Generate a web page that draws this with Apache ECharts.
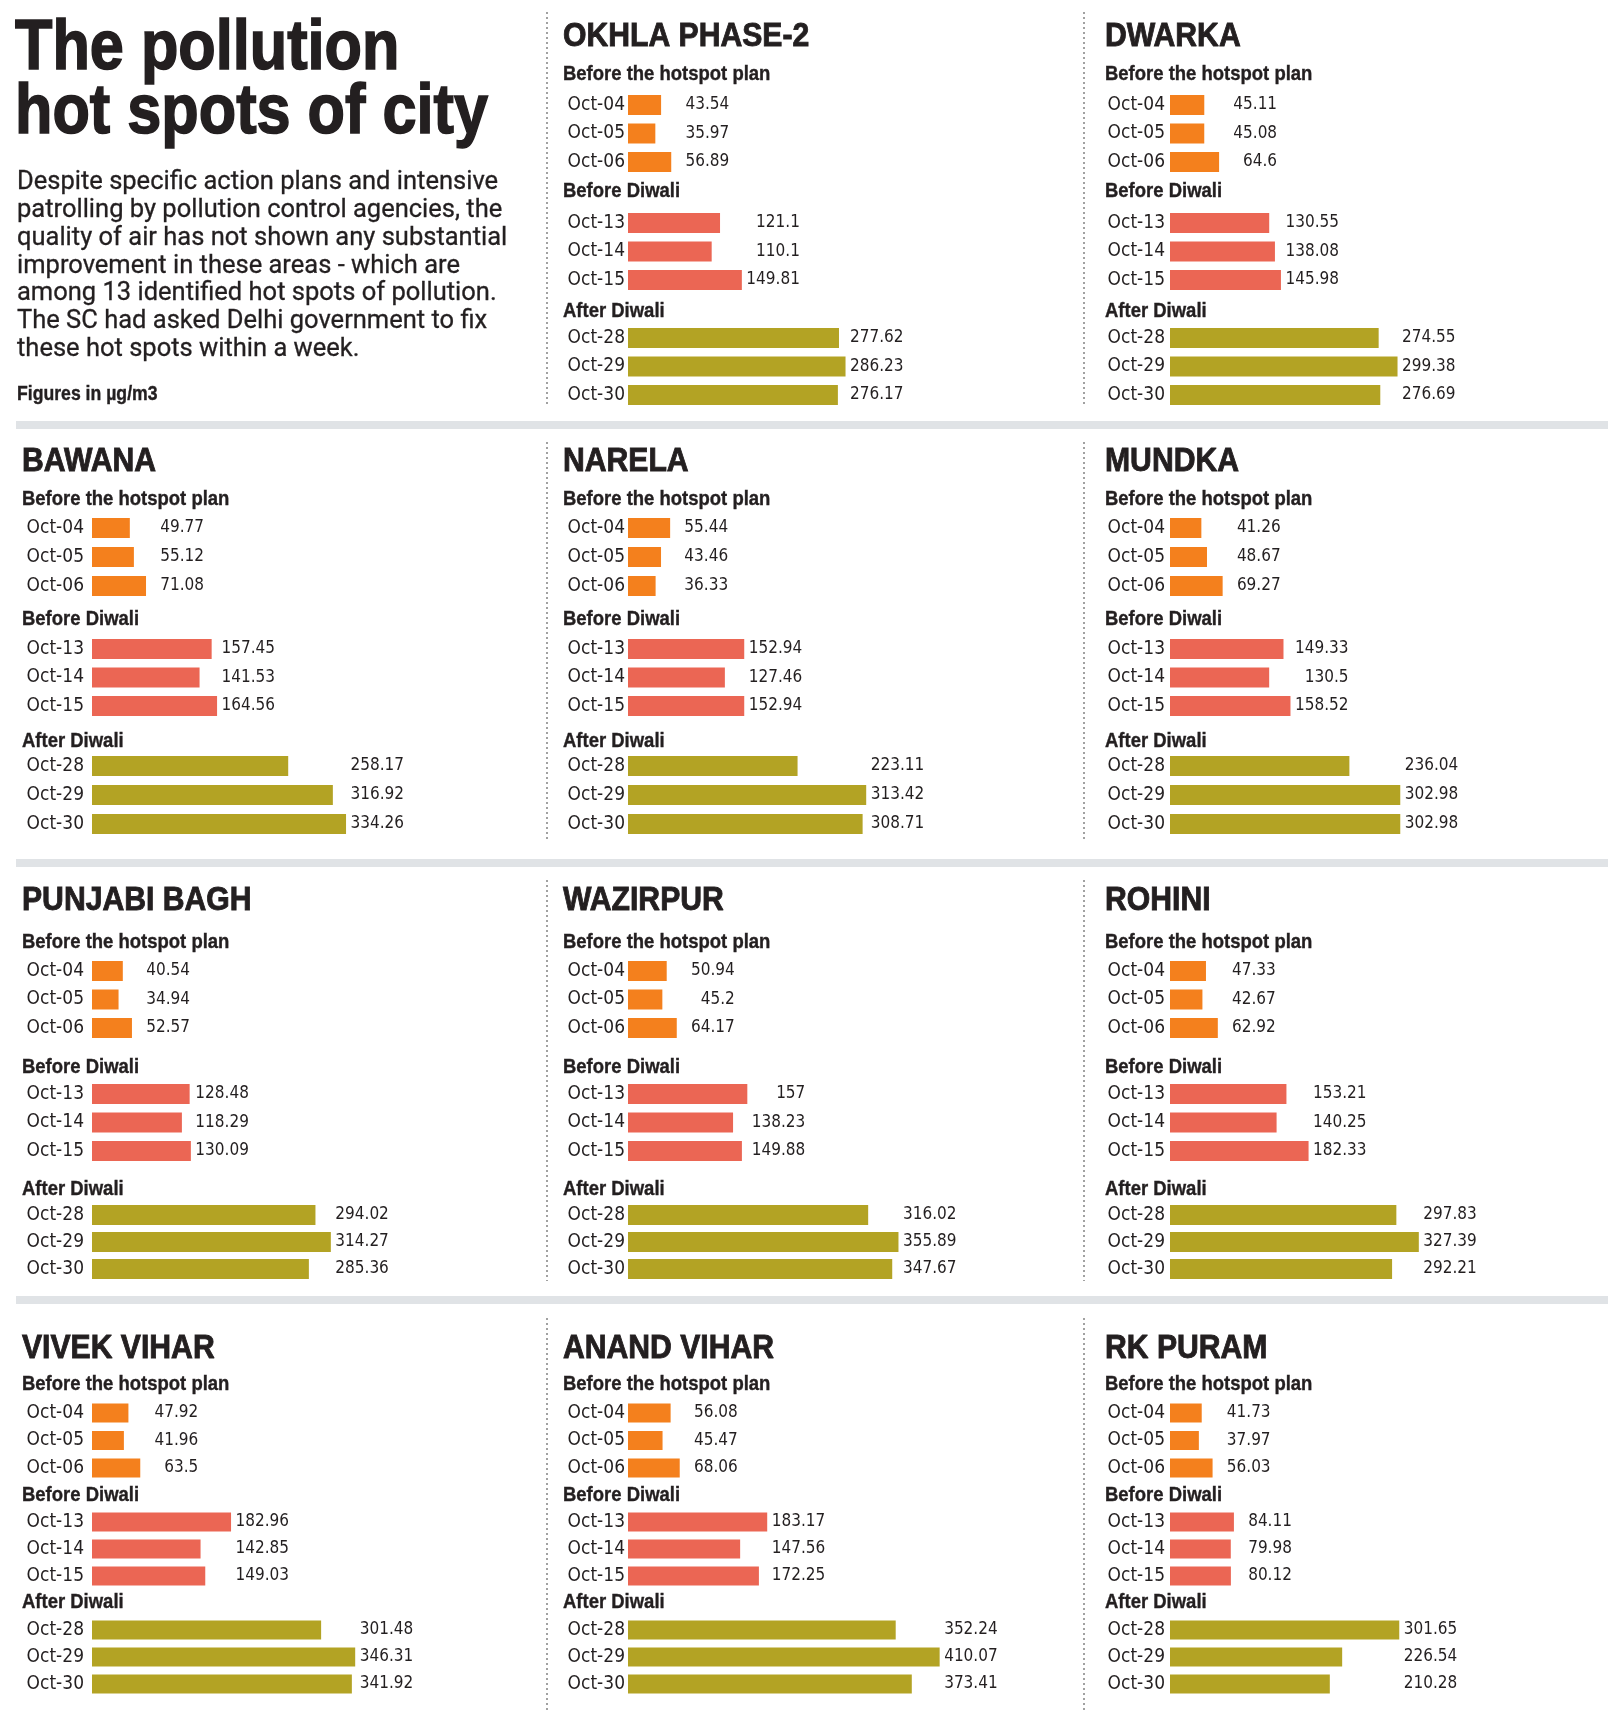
<!DOCTYPE html>
<html><head><meta charset="utf-8">
<script src="https://cdn.jsdelivr.net/npm/echarts@6/dist/echarts.min.js"></script>
<style>html,body{margin:0;padding:0;background:#fff}#c{width:1618px;height:1711px}</style>
</head><body><div id="c"></div>
<script>
// ---------- DATA ----------
const hotspots = ['OKHLA PHASE-2','DWARKA','BAWANA','NARELA','MUNDKA','PUNJABI BAGH','WAZIRPUR','ROHINI','VIVEK VIHAR','ANAND VIHAR','RK PURAM'];
const groupTitles = ['Before the hotspot plan','Before Diwali','After Diwali'];
const hotspotPlanDates = ['Oct-04','Oct-05','Oct-06'];
const beforeDiwaliDates = ['Oct-13','Oct-14','Oct-15'];
const afterDiwaliDates = ['Oct-28','Oct-29','Oct-30'];
const dateLabels = [hotspotPlanDates, beforeDiwaliDates, afterDiwaliDates];

const okhlaPhase2 = [[43.54,35.97,56.89],[121.1,110.1,149.81],[277.62,286.23,276.17]];
const dwarka      = [[45.11,45.08,64.6],[130.55,138.08,145.98],[274.55,299.38,276.69]];
const bawana      = [[49.77,55.12,71.08],[157.45,141.53,164.56],[258.17,316.92,334.26]];
const narela      = [[55.44,43.46,36.33],[152.94,127.46,152.94],[223.11,313.42,308.71]];
const mundka      = [[41.26,48.67,69.27],[149.33,130.5,158.52],[236.04,302.98,302.98]];
const punjabiBagh = [[40.54,34.94,52.57],[128.48,118.29,130.09],[294.02,314.27,285.36]];
const wazirpur    = [[50.94,45.2,64.17],[157,138.23,149.88],[316.02,355.89,347.67]];
const rohini      = [[47.33,42.67,62.92],[153.21,140.25,182.33],[297.83,327.39,292.21]];
const vivekVihar  = [[47.92,41.96,63.5],[182.96,142.85,149.03],[301.48,346.31,341.92]];
const anandVihar  = [[56.08,45.47,68.06],[183.17,147.56,172.25],[352.24,410.07,373.41]];
const rkPuram     = [[41.73,37.97,56.03],[84.11,79.98,80.12],[301.65,226.54,210.28]];
const hotspotValues = [okhlaPhase2,dwarka,bawana,narela,mundka,punjabiBagh,wazirpur,rohini,vivekVihar,anandVihar,rkPuram];

// ---------- STYLE / LAYOUT ----------
const COND = "'DejaVu Sans Condensed','Liberation Sans Narrow',sans-serif";
const HEAD = "'Liberation Sans',Arial,sans-serif";
const BODY = "Roboto,'Liberation Sans',sans-serif";
const INK = '#231f20';
const colors = ['#f4801d','#eb6654','#b3a324'];
const slots = [[1,0],[2,0],[0,1],[1,1],[2,1],[0,2],[1,2],[2,2],[0,3],[1,3],[2,3]];
const colTitleX = [22,563,1105], colAxisX = [92,628,1170], colMargin = [8,3,5];
const rowTop = [0,420,860,1296];
const rowTpl = [
  {title:23, subs:[65,182,302], groups:[[105,134,162],[223,251,280],[338,366,395]], bw:20},
  {title:28, subs:[70,190,312], groups:[[108,137,166],[229,257,286],[346,375,404]], bw:20},
  {title:27, subs:[73,198,320], groups:[[111,139,168],[234,263,291],[355,381,409]], bw:20},
  {title:39, subs:[79,190,297], groups:[[117,144,172],[226,253,280],[334,361,388]], bw:19}
];

function txt(text, x, y, font, sx, extra) {
  return {type:'text', x:x, y:y, scaleX:sx, silent:true,
    style:Object.assign({text:text, font:font, fill:INK, textAlign:'left', textVerticalAlign:'middle'}, extra||{})};
}

const grids=[], xAxes=[], yAxes=[], series=[], graphics=[];

// separators
[[421,8],[859,8],[1296,8]].forEach(function(b){
  graphics.push({type:'rect', silent:true, shape:{x:16, y:b[0], width:1592, height:b[1]}, style:{fill:'#e0e3e6'}});
});
[[12,407],[442,842],[880,1281],[1318,1711]].forEach(function(r){
  [547,1084].forEach(function(x){
    graphics.push({type:'line', silent:true, shape:{x1:x, y1:r[0], x2:x, y2:r[1]}, style:{stroke:'#555', lineWidth:1.1, lineDash:[2,3]}});
  });
});

// intro text
graphics.push(txt('The pollution', 15, 50, "bold 70px " + HEAD, 0.875, {stroke:INK, lineWidth:1.6}));
graphics.push(txt('hot spots of city', 15, 114, "bold 70px " + HEAD, 0.875, {stroke:INK, lineWidth:1.6}));
graphics.push(txt('Despite specific action plans and intensive\npatrolling by pollution control agencies, the\nquality of air has not shown any substantial\nimprovement in these areas - which are\namong 13 identified hot spots of pollution.\nThe SC had asked Delhi government to fix\nthese hot spots within a week.', 17, 169, "25.5px " + BODY, 1, {textVerticalAlign:'top', lineHeight:27.8, stroke:INK, lineWidth:0.3}));
graphics.push(txt('Figures in \u00b5g/m3', 17, 394, "bold 21px " + HEAD, 0.84, {stroke:INK, lineWidth:0.4}));

hotspots.forEach(function(name, h){
  const col = slots[h][0], row = slots[h][1];
  const top = rowTop[row], tpl = rowTpl[row];
  graphics.push(txt(name, colTitleX[col], top + tpl.title + 14, "bold 33.5px " + HEAD, 0.9, {stroke:INK, lineWidth:0.9}));
  groupTitles.forEach(function(gt, g){
    graphics.push(txt(gt, colTitleX[col], top + tpl.subs[g] + 9, "bold 21px " + HEAD, 0.88, {stroke:INK, lineWidth:0.4}));
    const cs = tpl.groups[g];
    const pitch = (cs[2]-cs[0])/2;
    const idx = grids.length;
    grids.push({left:colAxisX[col], top: top + cs[0] - pitch/2, width:380, height:pitch*3});
    xAxes.push({type:'value', gridIndex:idx, min:0, max:500, show:false, splitLine:{show:false}});
    yAxes.push({type:'category', gridIndex:idx, data:dateLabels[g], inverse:true,
      axisLine:{show:false}, axisTick:{show:false}, splitLine:{show:false},
      axisLabel:{interval:0, hideOverlap:false, fontFamily:COND, fontSize:19, color:INK, margin:colMargin[col]}});
    const vals = hotspotValues[h][g];
    const mx = Math.max.apply(null, vals);
    series.push({type:'bar', xAxisIndex:idx, yAxisIndex:idx, data:vals, barWidth:tpl.bw, barGap:'-100%',
      itemStyle:{color:colors[g]}, silent:true});
    series.push({type:'bar', xAxisIndex:idx, yAxisIndex:idx, data:vals.map(function(){return mx;}), barWidth:tpl.bw, barGap:'-100%',
      itemStyle:{color:'rgba(0,0,0,0)'}, silent:true,
      label:{show:true, position:'right', distance:58, align:'right', fontFamily:COND, fontSize:17, color:INK,
        formatter:function(p){ return String(vals[p.dataIndex]); }}});
  });
});

const chart = echarts.init(document.getElementById('c'), null, {renderer:'canvas'});
chart.setOption({
  animation:false,
  backgroundColor:'#fff',
  grid:grids, xAxis:xAxes, yAxis:yAxes, series:series,
  graphic:{elements:graphics}
});
</script>
</body></html>
